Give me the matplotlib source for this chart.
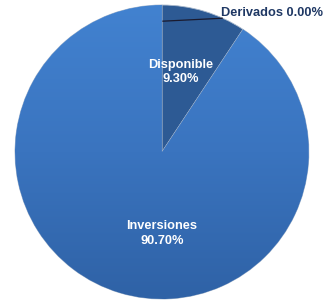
import numpy as np
import matplotlib.pyplot as plt
from matplotlib.colors import LinearSegmentedColormap

labels = ['Derivados', 'Disponible', 'Inversiones']
shares = [0.00, 9.30, 90.70]

fig = plt.figure(figsize=(3.24, 3.0), dpi=100)
ax = fig.add_axes([0.0463, 0.0033, 0.907, 0.98])

wedges, _ = ax.pie(shares, startangle=90, counterclock=False, radius=1,
                   colors=['#2b5a96', '#2d5a94', '#3b78c6'],
                   wedgeprops=dict(edgecolor='#a8b8cc', linewidth=0.6))

# vertical gradient on the big slice
grad = np.linspace(0, 1, 256).reshape(-1, 1)
cmap = LinearSegmentedColormap.from_list('blu', ['#2f62a6', '#3a74bf', '#4282d0'])
img = ax.imshow(grad, cmap=cmap, extent=[-1, 1, -1, 1], origin='lower',
                aspect='auto', zorder=wedges[2].get_zorder())
img.set_clip_path(wedges[2])
wedges[2].set_facecolor('none')

ax.set_xlim(-1, 1)
ax.set_ylim(-1, 1)
ax.axis('off')

# leader line for the empty slice
ax.plot([0.007, 0.41], [0.89, 0.91], color='#1a1a2e', lw=0.9, zorder=5)
ax.text(0.405, 0.945, f'{labels[0]} {shares[0]:.2f}%', color='#1f3864',
        fontsize=9.2, fontweight='bold', va='center', ha='left',
        family='Liberation Sans', clip_on=False)

ax.text(0.13, 0.545, f'{labels[1]}\n{shares[1]:.2f}%', color='white',
        fontsize=9.2, fontweight='bold', ha='center', va='center',
        family='Liberation Sans', linespacing=1.25)
ax.text(0.0, -0.555, f'{labels[2]}\n{shares[2]:.2f}%', color='white',
        fontsize=9.2, fontweight='bold', ha='center', va='center',
        family='Liberation Sans', linespacing=1.25)

fig.savefig('out.png', dpi=100)
